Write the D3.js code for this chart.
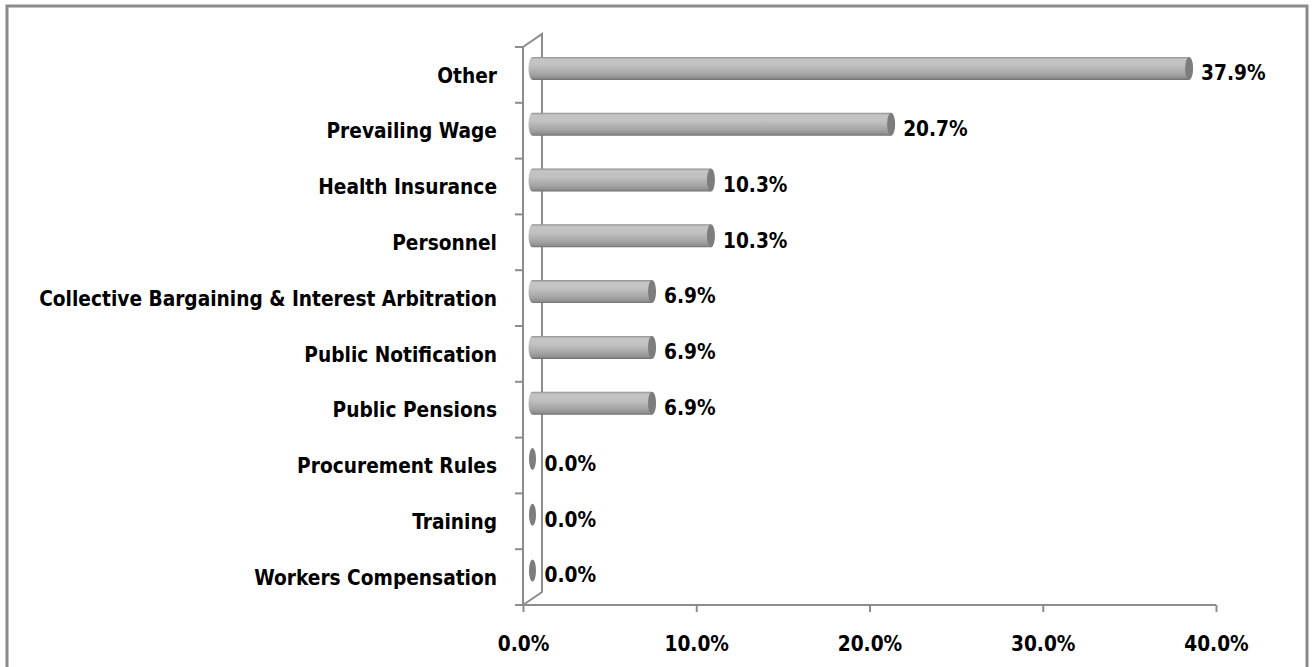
<!DOCTYPE html>
<html>
<head>
<meta charset="utf-8">
<script src="https://cdn.jsdelivr.net/npm/d3@7"></script>
<style>
  html, body { margin: 0; padding: 0; background: #fff; }
  svg text { font-family: "DejaVu Sans Condensed", "Liberation Sans Narrow", "Open Sans", sans-serif; font-weight: bold; fill: #000; }
</style>
</head>
<body>
<div id="chart"></div>
<script>
const categories = ['Other', 'Prevailing Wage', 'Health Insurance', 'Personnel',
  'Collective Bargaining & Interest Arbitration', 'Public Notification', 'Public Pensions',
  'Procurement Rules', 'Training', 'Workers Compensation']
const values = [37.9, 20.7, 10.3, 10.3, 6.9, 6.9, 6.9, 0.0, 0.0, 0.0]
const xTicks = [0, 10, 20, 30, 40]

const width = 1312
const height = 667
const plotLeft = 523, plotRight = 1216, plotTop = 47, plotBottom = 605
const depthX = 19, depthY = -13
const squeeze = 0.94   // narrow the text a little, the original font is condensed

const svg = d3.select('#chart').append('svg')
  .attr('width', width)
  .attr('height', height)

const defs = svg.append('defs')
const grad = defs.append('linearGradient')
  .attr('id', 'cyl')
  .attr('x1', 0).attr('y1', 0).attr('x2', 0).attr('y2', 1)
;[['0%', '#8f8f8f'], ['10%', '#c4c4c4'], ['35%', '#c2c2c2'], ['75%', '#a4a4a4'], ['92%', '#8e8e8e'], ['100%', '#6e6e6e']]
  .forEach(([o, c]) => grad.append('stop').attr('offset', o).attr('stop-color', c))

// outer frame
svg.append('rect')
  .attr('x', 7).attr('y', 6)
  .attr('width', 1300).attr('height', 720)
  .attr('fill', 'none')
  .attr('stroke', '#8a8a8a')
  .attr('stroke-width', 3)

const x = d3.scaleLinear().domain([0, 40]).range([plotLeft, plotRight])
const y = d3.scaleBand().domain(categories).range([plotTop, plotBottom])

const axisColor = '#8c8c8c'

// 3D wall: back line and diagonals
svg.append('path')
  .attr('d', `M${plotLeft},${plotTop}L${plotLeft + depthX},${plotTop + depthY}L${plotLeft + depthX},${plotBottom + depthY}L${plotLeft},${plotBottom}`)
  .attr('stroke', axisColor).attr('stroke-width', 2).attr('fill', 'none')

// y axis (front)
const yAxis = svg.append('g')
  .attr('transform', `translate(${plotLeft},0)`)
  .call(d3.axisLeft(y).tickSize(0).tickFormat(''))
yAxis.select('.domain').attr('stroke', axisColor).attr('stroke-width', 2)
  .attr('d', `M0,${plotTop}V${plotBottom}`)
yAxis.selectAll('.boundary')
  .data(d3.range(categories.length + 1))
  .join('line')
  .attr('class', 'boundary')
  .attr('x1', -8).attr('x2', 0)
  .attr('y1', i => plotTop + i * y.step())
  .attr('y2', i => plotTop + i * y.step())
  .attr('stroke', axisColor).attr('stroke-width', 2)

// category labels
svg.append('g')
  .selectAll('text')
  .data(categories)
  .join('text')
  .attr('transform', d => `translate(497,${y(d) + y.bandwidth() / 2}) scale(${squeeze},1)`)
  .attr('dy', '0.35em')
  .attr('text-anchor', 'end')
  .attr('font-size', '22px')
  .text(d => d)

// x axis
const xAxis = svg.append('g')
  .attr('transform', `translate(0,${plotBottom})`)
  .call(d3.axisBottom(x).tickValues(xTicks).tickSize(7).tickFormat(d => d.toFixed(1) + '%'))
xAxis.select('.domain').attr('stroke', axisColor).attr('stroke-width', 2)
  .attr('d', `M${plotLeft - 8},0H${plotRight}`)
xAxis.selectAll('.tick line').attr('stroke', axisColor).attr('stroke-width', 2)
xAxis.selectAll('.tick text')
  .attr('font-size', '22px')
  .attr('y', 0)
  .attr('dy', '0.35em')
  .attr('transform', `translate(0,38) scale(${squeeze},1)`)
  .attr('fill', '#000')

// cylinders
const rx = 4, ry = 11.5
const bars = svg.append('g')
  .selectAll('g')
  .data(categories.map((c, i) => ({ c, v: values[i] })))
  .join('g')

bars.each(function (d) {
  const g = d3.select(this)
  const cy = y(d.c) + y.bandwidth() / 2 + depthY / 2
  const x0 = x(0) + depthX / 2
  const x1 = x(d.v) + depthX / 2
  if (d.v > 0) {
    g.append('path')
      .attr('d', `M${x0},${cy - ry}H${x1}V${cy + ry}H${x0}A${rx},${ry} 0 0 1 ${x0},${cy - ry}Z`)
      .attr('fill', 'url(#cyl)')
  }
  g.append('ellipse')
    .attr('cx', x1).attr('cy', cy)
    .attr('rx', d.v > 0 ? rx : 3.5).attr('ry', d.v > 0 ? ry : 11)
    .attr('fill', '#7d7d7d')
  g.append('text')
    .attr('transform', `translate(${x1 + rx + 8},${cy + 4}) scale(${squeeze},1)`)
    .attr('dy', '0.35em')
    .attr('font-size', '22px')
    .text(d.v.toFixed(1) + '%')
})
</script>
</body>
</html>
